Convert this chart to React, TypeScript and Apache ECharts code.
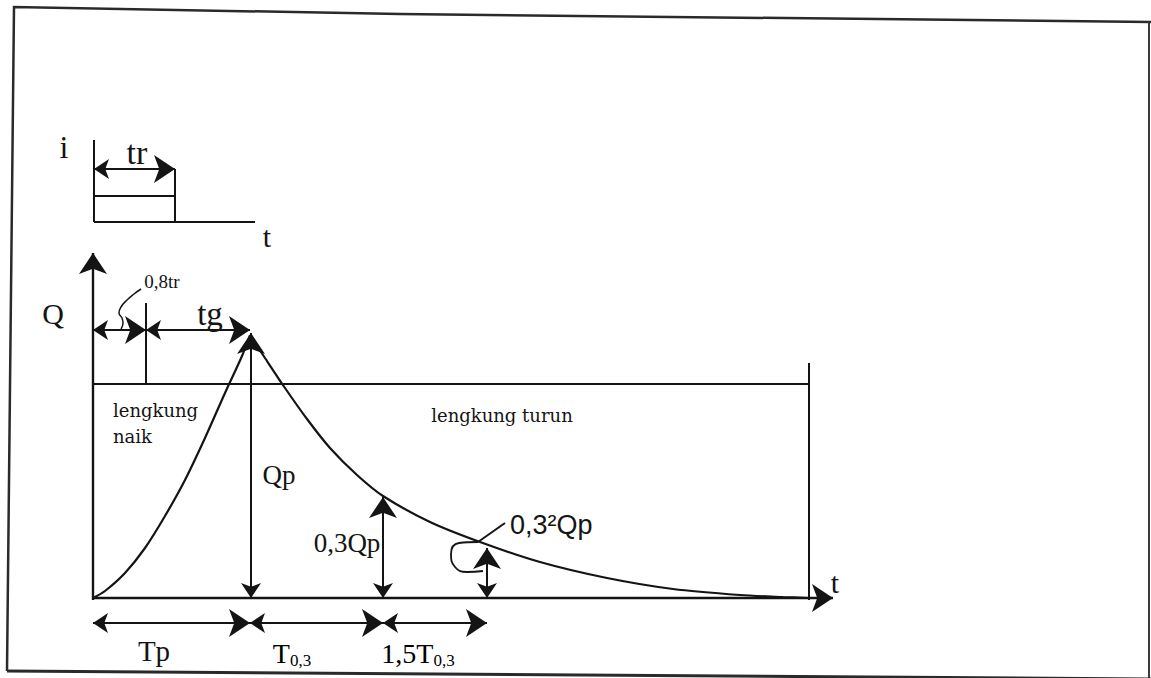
import React, { useEffect, useRef } from "react";
import * as echarts from "echarts";

// Nakayasu synthetic unit hydrograph sketch.
// Coordinates: t = time measured from the Q axis, q = discharge (Qp = 263 units).
const risingT = [0, 12, 32, 52, 72, 92, 112, 132, 149, 157];
const risingQ = [0, 7, 25, 50, 82, 118, 160, 205, 242, 263];
const fallingT = [157, 172, 192, 214, 237, 264, 290, 337, 387, 447, 514, 580, 647, 690, 715];
const fallingQ = [263, 240, 210, 179, 150, 123, 102, 76, 56, 36, 20, 9, 3, 1, 0];

// leader squiggle of the 0,8tr label and loop of the 0,3²Qp label
const squigT = [48, 41, 33, 28, 26, 29, 30, 28];
const squigQ = [309, 304, 297, 291, 285, 280, 275, 269];
const loopT = [385, 366, 358, 362, 374, 390];
const loopQ = [56, 55, 44, 31, 26, 27];

// plain segments [t1, q1, t2, q2]
const plainSegments = [
  [1, 458, 1, 376], // inset i axis
  [1, 376, 162, 376], // inset t axis
  [82, 429, 82, 376], // rain block right side
  [1, 402, 82, 402], // rain block middle
  [0, 214, 716, 214], // divider
  [716, 235, 716, -2], // right boundary
  [53, 295, 53, 214], // 0,8tr marker
  [412, 75, 385, 56], // 0,3²Qp leader
];
// double-headed dimension arrows [t1, q1, t2, q2]
const dimensionArrows = [
  [1, 429, 82, 429], // tr
  [0, 268, 53, 268], // 0,8tr
  [53, 268, 157, 268], // tg
  [158, 0, 158, 265], // Qp
  [290, 0, 290, 101], // 0,3Qp
  [394, 0, 394, 50], // 0,3²Qp
  [0, -25, 157, -25], // Tp
  [157, -25, 290, -25], // T0,3
  [290, -25, 394, -25], // 1,5T0,3
];
// axes with a single head [t1, q1, t2, q2]
const axisArrows = [
  [0, -2, 0, 345], // Q
  [-1, 0, 740, 0], // t
];

const INK = "#141414";
const SERIF = "'Liberation Serif', 'Times New Roman', serif";
const ARROW_W = 15;
const ARROW_L = 21;

export default function App() {
  const ref = useRef<HTMLDivElement>(null);
  useEffect(() => {
    if (!ref.current) return;
    const chart = echarts.init(ref.current, undefined, { renderer: "svg" });
    const txt = (text: string, x: number, y: number, size: number, extra: any = {}) => ({
      type: "text",
      silent: true,
      style: {
        text,
        x,
        y,
        fill: INK,
        fontFamily: SERIF,
        fontSize: size,
        align: "center",
        verticalAlign: "middle",
        textAlign: "center",
        textVerticalAlign: "middle",
        ...extra,
      },
    });
    const subRich = {
      a: { fontSize: 28, fontFamily: SERIF, color: INK },
      b: { fontSize: 17, fontFamily: SERIF, color: INK, padding: [14, 0, 0, 0] },
    };
    const seg = (s: number[]) => ({ coords: [[s[0], s[1]], [s[2], s[3]]] });
    chart.setOption({
      animation: false,
      backgroundColor: "#ffffff",
      grid: { left: 0, right: 0, top: 0, bottom: 0 },
      xAxis: { type: "value", min: -93, max: 1058, show: false },
      yAxis: { type: "value", min: -80, max: 598, show: false },
      graphic: [
        {
          type: "polyline",
          silent: true,
          shape: { points: [[7, 671], [14, 7], [400, 14], [1151, 22]] },
          style: { stroke: "#2a2a2a", lineWidth: 2.5, fill: "none" },
        },
        {
          type: "line",
          silent: true,
          shape: { x1: 7, y1: 671, x2: 1151, y2: 679 },
          style: { stroke: "#2a2a2a", lineWidth: 3 },
        },
        {
          type: "line",
          silent: true,
          shape: { x1: 1149, y1: 22, x2: 1149, y2: 678 },
          style: { stroke: "#3a3a3a", lineWidth: 2 },
        },
        txt("i", 64, 147, 32),
        txt("tr", 137, 152, 34),
        txt("t", 267, 236, 30),
        txt("Q", 53, 313, 30),
        txt("0,8tr", 162, 281, 19),
        txt("tg", 210, 314, 33),
        txt("lengkung", 113, 410, 18, { align: "left", textAlign: "left", fontFamily: "'DejaVu Serif', serif" }),
        txt("naik", 113, 436, 18, { align: "left", textAlign: "left", fontFamily: "'DejaVu Serif', serif" }),
        txt("lengkung turun", 502, 415, 18, { fontFamily: "'DejaVu Serif', serif" }),
        txt("Qp", 279, 475, 27),
        txt("0,3Qp", 347, 543, 27),
        txt("0,3²Qp", 510, 525, 27, { align: "left", textAlign: "left", fontFamily: "'Liberation Sans', Arial, sans-serif" }),
        txt("t", 835, 582, 30),
        txt("Tp", 154, 651, 29),
        {
          type: "text",
          silent: true,
          style: {
            text: "{a|T}{b|0,3}",
            x: 292,
            y: 653,
            align: "center",
            verticalAlign: "middle",
            textAlign: "center",
            textVerticalAlign: "middle",
            rich: subRich,
          },
        },
        {
          type: "text",
          silent: true,
          style: {
            text: "{a|1,5T}{b|0,3}",
            x: 418,
            y: 653,
            align: "center",
            verticalAlign: "middle",
            textAlign: "center",
            textVerticalAlign: "middle",
            rich: subRich,
          },
        },
      ],
      series: [
        {
          type: "line",
          silent: true,
          data: risingT.map((t, i) => [t, risingQ[i]]),
          smooth: 0.3,
          showSymbol: false,
          symbol: "none",
          lineStyle: { color: INK, width: 2.2 },
        },
        {
          type: "line",
          silent: true,
          data: fallingT.map((t, i) => [t, fallingQ[i]]),
          smooth: 0.3,
          showSymbol: false,
          symbol: "none",
          lineStyle: { color: INK, width: 2.2 },
        },
        {
          type: "line",
          silent: true,
          data: squigT.map((t, i) => [t, squigQ[i]]),
          smooth: 0.5,
          showSymbol: false,
          symbol: "none",
          lineStyle: { color: INK, width: 1.5 },
        },
        {
          type: "line",
          silent: true,
          data: loopT.map((t, i) => [t, loopQ[i]]),
          smooth: 0.5,
          showSymbol: false,
          symbol: "none",
          lineStyle: { color: INK, width: 1.8 },
        },
        {
          type: "lines",
          silent: true,
          coordinateSystem: "cartesian2d",
          data: plainSegments.map(seg),
          symbol: ["none", "none"],
          lineStyle: { color: INK, width: 2, curveness: 0, opacity: 1 },
        },
        {
          type: "lines",
          silent: true,
          coordinateSystem: "cartesian2d",
          data: dimensionArrows.map(seg),
          symbol: ["arrow", "arrow"],
          symbolSize: [ARROW_W, ARROW_L],
          lineStyle: { color: INK, width: 2, curveness: 0, opacity: 1 },
        },
        {
          type: "lines",
          silent: true,
          coordinateSystem: "cartesian2d",
          data: axisArrows.map(seg),
          symbol: ["none", "arrow"],
          symbolSize: [ARROW_W, ARROW_L],
          lineStyle: { color: INK, width: 2.4, curveness: 0, opacity: 1 },
        },
      ],
    });
    return () => chart.dispose();
  }, []);
  return (
    <div
      ref={ref}
      style={{ position: "absolute", left: 0, top: 0, width: 1151, height: 678, background: "#fff" }}
    />
  );
}
